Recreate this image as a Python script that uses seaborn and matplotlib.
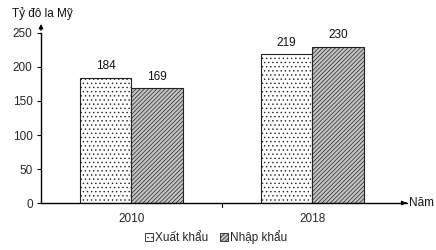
import matplotlib
matplotlib.use("Agg")
import matplotlib.pyplot as plt
import matplotlib.transforms as mtransforms
import seaborn as sns
import pandas as pd
from matplotlib.patches import Patch

years = ["2010", "2018"]
series = ["Xuất khẩu", "Nhập khẩu"]
export_vals = [184, 219]
import_vals = [169, 230]
y_ticks = [0, 50, 100, 150, 200, 250]

df = pd.DataFrame({
    "Năm": years * 2,
    "Loại": [series[0]] * 2 + [series[1]] * 2,
    "Giá trị": export_vals + import_vals,
})

sns.set_theme(style="white")
plt.rcParams['font.family'] = ['Liberation Sans', 'DejaVu Sans']
plt.rcParams['hatch.linewidth'] = 0.5

fig = plt.figure(figsize=(4.36, 2.5), dpi=100)
ax = fig.add_axes([0.094, 0.188, 0.83, 0.68])

face = {series[0]: "white", series[1]: "#c4c4c4"}
hatches = {series[0]: "....", series[1]: "////////"}

sns.barplot(data=df, x="Năm", y="Giá trị", hue="Loại", hue_order=series,
            order=years, palette=face, width=0.57, edgecolor="black",
            linewidth=0.8, ax=ax, legend=False, saturation=1)

for cont, s in zip(ax.containers, series):
    for bar in cont:
        bar.set_hatch(hatches[s])
        bar.set_facecolor(face[s])
        bar.set_edgecolor("#222222")
    ax.bar_label(cont, padding=4, fontsize=8.5, color="#111111")

ax.set_xlim(-0.5, 1.5)
ax.set_ylim(0, 250)
ax.set_yticks(y_ticks)
ax.set_yticklabels([str(v) for v in y_ticks], fontsize=8.5)
ax.set_xlabel("")
ax.set_ylabel("")
ax.tick_params(axis="x", length=0, labelsize=8.5, pad=7)
ax.tick_params(axis="y", direction="out", length=3, width=0.8, color="black", left=True, pad=3)
ax.set_xticks([0, 1])
ax.set_xticklabels(years)

# middle tick on x axis (category boundary)
trans = mtransforms.blended_transform_factory(ax.transData, ax.transAxes)
ax.plot([0.5, 0.5], [0, -0.022], color="black", lw=0.8, transform=trans, clip_on=False)

for sp in ["top", "right"]:
    ax.spines[sp].set_visible(False)
for sp in ["left", "bottom"]:
    ax.spines[sp].set_color("black")
    ax.spines[sp].set_linewidth(1.0)

# arrows
ax.annotate("", xy=(0, 1.07), xytext=(0, 1.0), xycoords="axes fraction",
            arrowprops=dict(arrowstyle="-|>", color="black", lw=1.0, mutation_scale=6))
ax.annotate("", xy=(1.01, 0), xytext=(1.0, 0), xycoords="axes fraction",
            arrowprops=dict(arrowstyle="-|>", color="black", lw=1.0, mutation_scale=6))
ax.plot([1.0, 1.012], [0, 0], transform=ax.transAxes, color="black", lw=1.0, clip_on=False)

fig.text(0.028, 0.945, "Tỷ đô la Mỹ", fontsize=8.5, ha="left", va="center", color="#111111")
fig.text(0.937, 0.188, "Năm", fontsize=8.5, ha="left", va="center", color="#111111")

handles = [Patch(facecolor=face[s], edgecolor="#222222", hatch=hatches[s], linewidth=0.6) for s in series]
fig.legend(handles, series, loc="center", bbox_to_anchor=(0.495, 0.052), ncol=2, frameon=False,
           fontsize=8.5, handlelength=0.7, handleheight=0.7, handletextpad=0.15,
           columnspacing=1.0, borderaxespad=0)

fig.savefig("out.png", dpi=100, facecolor="white")
